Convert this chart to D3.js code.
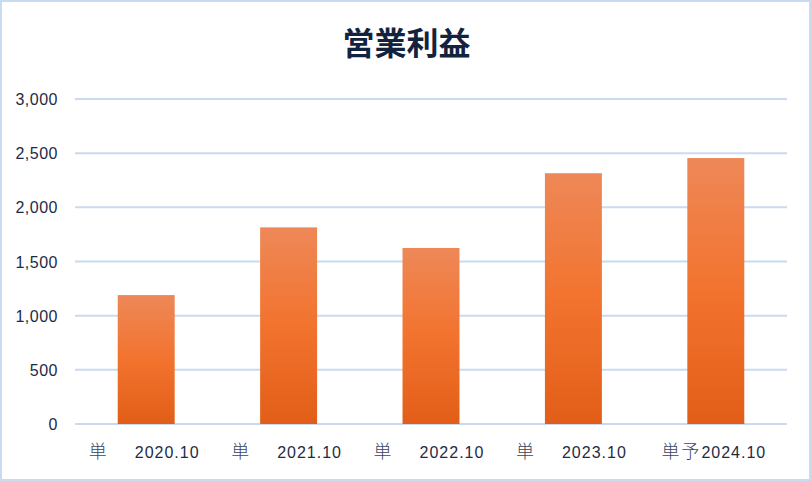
<!DOCTYPE html>
<html><head><meta charset="utf-8">
<script src="https://cdn.jsdelivr.net/npm/d3@7"></script>
<style>
html,body{margin:0;padding:0;background:#fff;}
svg{display:block;}
</style></head>
<body>
<script>
const categories = ["2020.10", "2021.10", "2022.10", "2023.10", "2024.10"];
const prefixes = ["単　 ", "単　 ", "単　 ", "単　 ", "単予"];
const values = [1190, 1815, 1625, 2315, 2455];
const yTicks = [0, 500, 1000, 1500, 2000, 2500, 3000];
const title = "営業利益";

const W = 811, H = 481;
const margin = {left: 75, right: 24, top: 99, bottom: 57};
const svg = d3.select("body").append("svg").attr("width", W).attr("height", H);

svg.append("rect").attr("x", 1).attr("y", 1).attr("width", W - 2).attr("height", H - 2)
  .attr("fill", "#fff").attr("stroke", "#c8dbf0").attr("stroke-width", 2);

const defs = svg.append("defs");
const grad = defs.append("linearGradient").attr("id", "bg").attr("x1", 0).attr("y1", 0).attr("x2", 0).attr("y2", 1);
grad.append("stop").attr("offset", "0%").attr("stop-color", "#ee8858");
grad.append("stop").attr("offset", "50%").attr("stop-color", "#f2732e");
grad.append("stop").attr("offset", "100%").attr("stop-color", "#e25e18");

const x = d3.scaleBand().domain(categories).range([margin.left, W - margin.right]).paddingInner(0.6).paddingOuter(0.3);
const y = d3.scaleLinear().domain([0, 3000]).range([H - margin.bottom, margin.top]);

const font = "'Liberation Sans', Arial, sans-serif";
const textColor = "#1e2b45";

// gridlines
svg.append("g").selectAll("line").data(yTicks).join("line")
  .attr("x1", margin.left).attr("x2", W - margin.right)
  .attr("y1", d => y(d)).attr("y2", d => y(d))
  .attr("stroke", "#c8dbf0").attr("stroke-width", 2);

// y labels
const yAxis = d3.axisLeft(y).tickValues(yTicks).tickFormat(d3.format(",")).tickSize(0).tickPadding(0);
const gy = svg.append("g").attr("transform", `translate(58,0)`).call(yAxis);
gy.select(".domain").remove();
gy.selectAll("text").attr("font-family", font).attr("font-size", 16).attr("letter-spacing", 0.5)
  .attr("fill", textColor).attr("dy", "0.35em");

// bars
svg.append("g").selectAll("rect").data(values).join("rect")
  .attr("x", (d, i) => x(categories[i]))
  .attr("width", x.bandwidth())
  .attr("y", d => y(d))
  .attr("height", d => y(0) - y(d))
  .attr("fill", "url(#bg)");

// x labels
const labels = svg.append("g").selectAll("text").data(categories).join("text")
  .attr("x", d => x(d) + x.bandwidth() / 2 - 2)
  .attr("y", y(0) + 28)
  .attr("dy", "0.35em")
  .attr("text-anchor", "middle")
  .attr("xml:space", "preserve")
  .attr("fill", textColor);
labels.append("tspan")
  .attr("font-family", "'Noto Sans CJK JP', sans-serif").attr("font-weight", 300)
  .attr("font-size", 18).attr("letter-spacing", 2).attr("fill", "#3a4660")
  .text((d, i) => prefixes[i]);
labels.append("tspan")
  .attr("font-family", font).attr("font-size", 16).attr("letter-spacing", 1)
  .text(d => d);

// title
svg.append("text").attr("x", W / 2 + 1).attr("y", 55).attr("text-anchor", "middle")
  .attr("font-family", "'Noto Sans CJK JP', sans-serif").attr("font-weight", "bold")
  .attr("font-size", 32).attr("fill", "#13233e").text(title);
</script>
</body></html>
